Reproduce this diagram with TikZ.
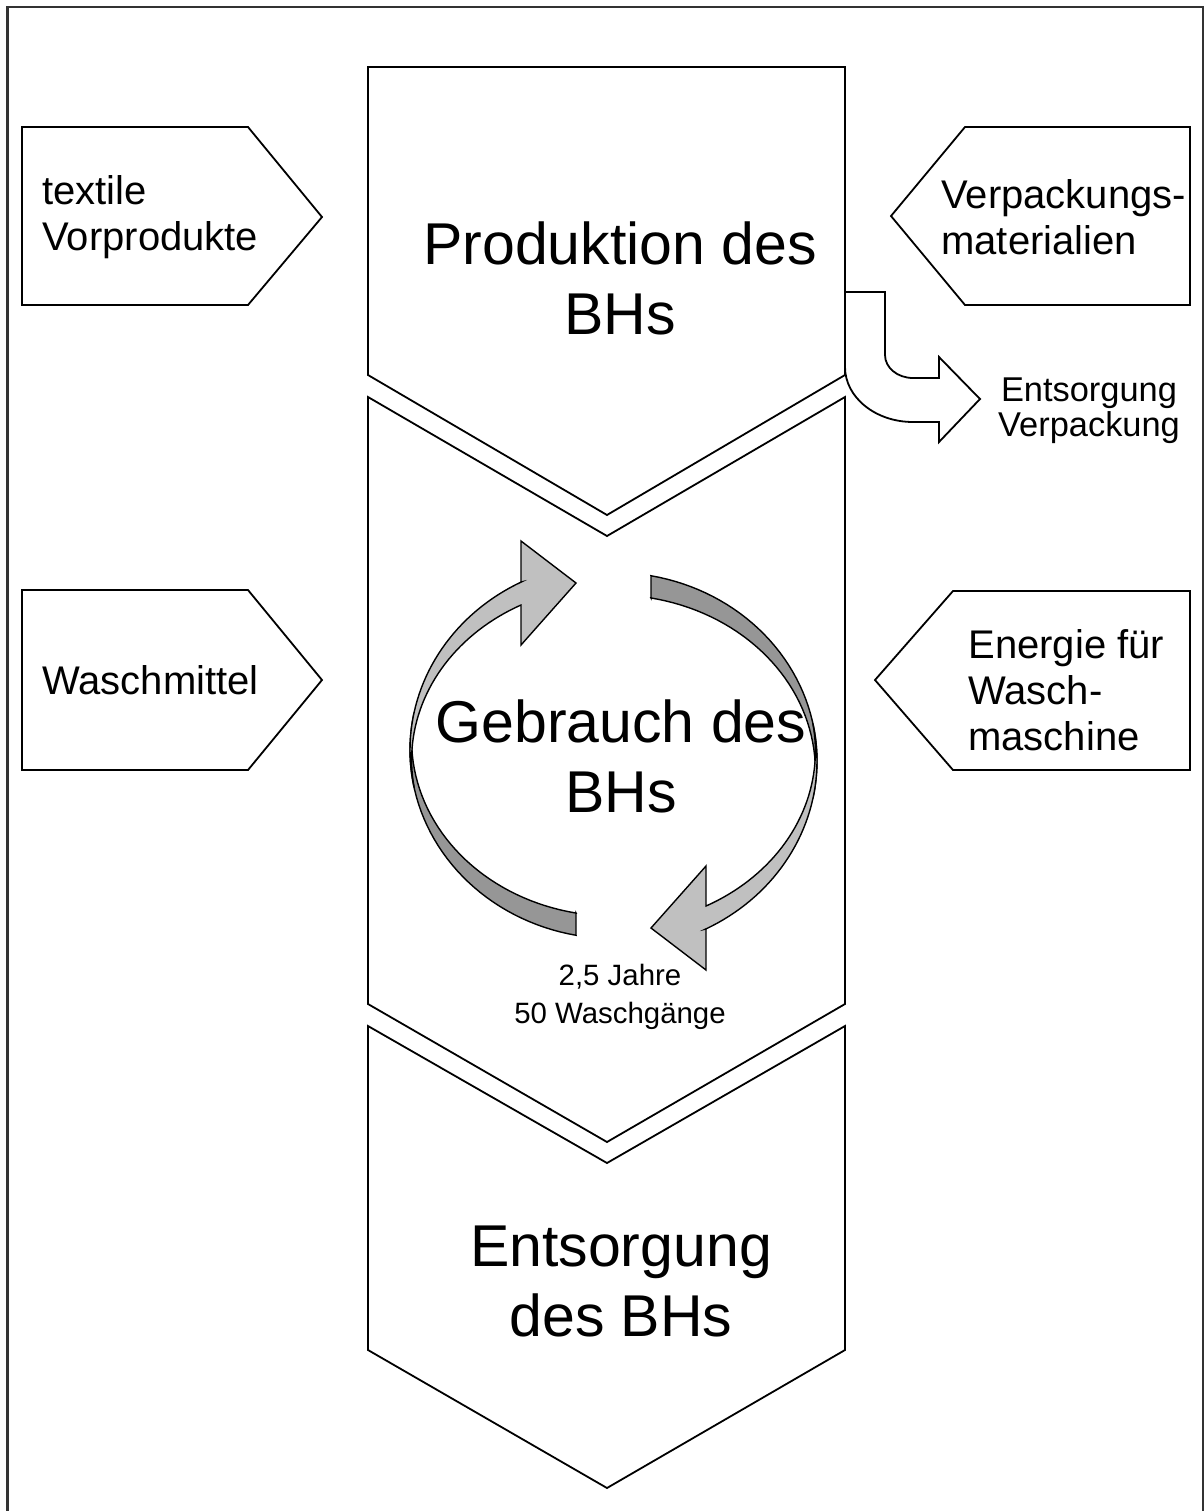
\documentclass[tikz,border=0pt]{standalone}
\usepackage{fontspec}
\setmainfont{Liberation Sans}
\usepackage{tikz}
\usetikzlibrary{calc,positioning}
\definecolor{facelight}{RGB}{192,192,192}
\definecolor{facedark}{RGB}{150,150,150}
\tikzstyle{stage} = [draw=black, line width=0.9pt, fill=white, line join=miter]
\tikzstyle{cycleface} = [draw=black, line width=0.7pt, line join=miter]
\tikzstyle{bigtext} = [align=center, inner sep=0pt, font={\fontsize{29.5}{35}\selectfont}]
\tikzstyle{sidetext} = [align=left, inner sep=0pt, anchor=west, font={\fontsize{20}{23}\selectfont}]
\tikzstyle{notetext} = [align=center, inner sep=0pt, font={\fontsize{17.2}{17.5}\selectfont}]
\tikzstyle{timetext} = [align=center, inner sep=0pt, font={\fontsize{14.7}{19}\selectfont}]
% one half of the washing cycle, turned by 180 degrees for the other half
\newcommand{\halfcycle}{%
  \path [cycleface, fill=facedark] (576,935) -- (576,913)
    -- plot [domain=259.3:171.2, samples=40, variable=\t]
       ({613.5+201.9*cos(\t)}, {740-176.1*sin(\t)})
    -- plot [domain=168.7:259.4, samples=40, variable=\t]
       ({613.5+203.5*cos(\t)}, {750-188.5*sin(\t)})
    -- cycle;
  \path [cycleface, fill=facelight] (521,582) -- (521,541) -- (576,583)
    -- (521,645) -- (521,605)
    -- plot [domain=117.3:188.9, samples=40, variable=\t]
       ({613.5+201.9*cos(\t)}, {760-174.4*sin(\t)})
    -- plot [domain=191.3:116.9, samples=40, variable=\t]
       ({613.5+203.5*cos(\t)}, {750-188.5*sin(\t)})
    -- cycle;
}

\begin{document}
\begin{tikzpicture}[x=0.5pt, y=-0.5pt]
      \useasboundingbox (0,0) rectangle (1204,1511);
      \draw [line width=1.2pt, black!80] (7.5,1511) -- (7.5,7) -- (1203,7) -- (1203,1511);
      % life cycle stages
      \path [stage] (368,67) -- (845,67) -- (845,375) -- (607,515)
        -- (368,375) -- cycle;
      \path [stage] (368,397) -- (607,536) -- (845,397) -- (845,1004)
        -- (607,1142) -- (368,1004) -- cycle;
      \path [stage] (368,1026) -- (607,1163) -- (845,1026) -- (845,1350)
        -- (607,1488) -- (368,1350) -- cycle;
      % inputs
      \path [stage] (22,127) -- (248,127) -- (322,217) -- (248,305)
        -- (22,305) -- cycle;
      \path [stage] (22,590) -- (248,590) -- (322,680) -- (248,770)
        -- (22,770) -- cycle;
      \path [stage] (891,216) -- (965,127) -- (1190,127) -- (1190,305)
        -- (965,305) -- cycle;
      \path [stage] (875,680) -- (953,591) -- (1190,591) -- (1190,770)
        -- (953,770) -- cycle;
      % packaging out
      \path [stage] (845,292) -- (885,292) -- (885,355)
        .. controls (885,367.7) and (897.5,378) .. (913,378)
        -- (939,378) -- (939,357) -- (980,399) -- (939,442) -- (939,422)
        -- (913,422) .. controls (875.5,422) and (845,397.4) .. (845,367)
        -- cycle;
      % washing cycle
      \halfcycle
      \begin{scope}[rotate around={180:(613.5,755.5)}]
        \halfcycle
      \end{scope}
      \node [bigtext] at (620,278) (production) {Produktion des\\BHs};
      \node [bigtext] at (621,756) (use) {Gebrauch des\\BHs};
      \node [bigtext] at (621,1281) (disposal) {Entsorgung\\des BHs};
      \node [sidetext] at (42,217) (textiles) {textile\\Vorprodukte};
      \node [sidetext] at (42,680) (detergent) {Waschmittel};
      \node [sidetext] at (941,217) (packaging) {Verpackungs-\\materialien};
      \node [sidetext] at (968,690) (energy) {Energie für\\Wasch-\\maschine};
      \node [notetext] at (1089,411) (packdisposal) {Entsorgung\\Verpackung};
      \node [timetext] at (620,997) (lifetime) {2,5 Jahre\\50 Waschgänge};
    \end{tikzpicture}
\end{document}
